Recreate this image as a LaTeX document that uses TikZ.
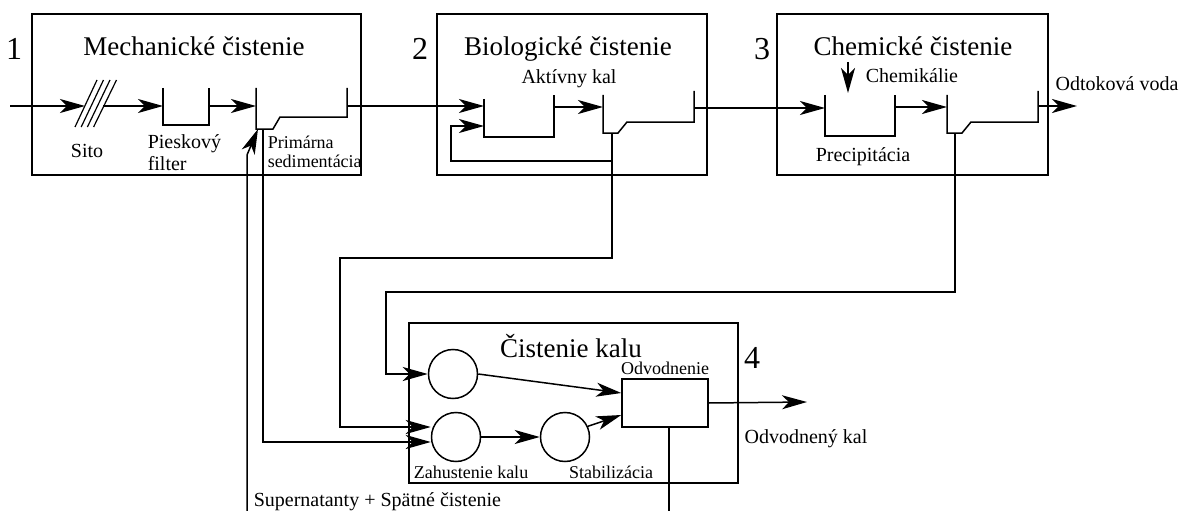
\documentclass[tikz,border=0pt]{standalone}
\usepackage{fontspec}
\setmainfont{Liberation Serif}
\usetikzlibrary{arrows.meta, positioning}

\tikzset{
    flow/.style={-{Stealth[length=25pt, width=14pt, inset=7pt]}},
    stage/.style={draw, inner sep=0pt},
    vessel/.style={draw, circle, minimum size=49pt, inner sep=0pt},
    press/.style={draw, minimum width=86pt, minimum height=48pt, inner sep=0pt},
    stagetitle/.style={font=\fontsize{27}{30}\selectfont, anchor=base, inner sep=0pt},
    stagenum/.style={font=\fontsize{32}{36}\selectfont, anchor=base, inner sep=0pt},
    label/.style={font=\fontsize{20}{22}\selectfont, anchor=base, inner sep=0pt},
    smalllabel/.style={font=\fontsize{18}{19}\selectfont, anchor=base, inner sep=0pt},
}

\begin{document}
\begin{tikzpicture}[x=1pt, y=-1pt, line width=1.5pt]
    \useasboundingbox (0,0) rectangle (1184,511);

    \node[stage, minimum width=329pt, minimum height=161pt] (mech) at (196.5,94.5) {};
    \node[stage, minimum width=270pt, minimum height=161pt] (bio) at (572,94.5) {};
    \node[stage, minimum width=271pt, minimum height=161pt] (chem) at (912.5,94.5) {};
    \node[stage, minimum width=329pt, minimum height=160pt] (sludge) at (573.5,403) {};

    \node[stagenum] (n1) at (14,60) {1};
    \node[stagenum] (n2) at (420,60) {2};
    \node[stagenum] (n3) at (762,60) {3};
    \node[stagenum] (n4) at (752,368) {4};

    \node[stagetitle] (mechtitle) at (194,56) {Mechanické čistenie};
    \node[stagetitle] (biotitle) at (568,56) {Biologické čistenie};
    \node[stagetitle] (chemtitle) at (913,56) {Chemické čistenie};
    \node[stagetitle] (sludgetitle) at (571,357) {Čistenie kalu};

    % mechanical stage
    \coordinate (inlet) at (10,106);
    \foreach \i in {0,...,3}
        \draw[line width=1.2pt] (75+6.2*\i,127) -- (97+6.5*\i,80);
    \draw (163,88) |- (209,125) -- (209,88);
    \draw (256,88) |- (273,129) -- (280,117) -| (347,88);
    \coordinate (primout) at (263,129);
    \draw[flow] (inlet) -- (85,106);
    \draw[flow] (103,106) -- (163,106);
    \draw[flow] (209,106) -- (256,106);
    \node[label] (sito) at (87,157) {Sito};
    \node[label, anchor=base west, align=left] (sand) at (147,170) {Pieskový\\filter};
    \node[smalllabel, anchor=base west, align=left] (prim) at (267,167) {Primárna\\sedimentácia};

    % biological stage
    \draw (484,99) |- (554,137) -- (554,95);
    \draw (603,95) |- (618,133) -- (627,122) -| (694,91);
    \coordinate (bioout) at (612,133);
    \draw[flow] (347,106) -- (484,106);
    \draw[flow] (554,107) -- (603,107);
    \draw[flow] (612,161) -| (451,126) -- (484,126);
    \node[label] (akt) at (569,84) {Aktívny kal};

    % chemical stage
    \draw (825,95) |- (895,136) -- (895,95);
    \draw (947,95) |- (962,133) -- (971,122) -| (1038,91);
    \coordinate (chemout) at (955,133);
    \draw[flow] (694,108) -- (825,108);
    \draw[flow] (895,107) -- (947,107);
    \draw[flow] (1038,106) -- (1077,106);
    \draw[flow] (848,62) -- (848,93);
    \node[label] (chemik) at (912,83) {Chemikálie};
    \node[label] (precip) at (863,161) {Precipitácia};
    \node[label] (odtok) at (1117,91) {Odtoková voda};

    % sludge treatment
    \node[vessel] (top) at (453,374) {};
    \node[vessel] (zah) at (456,437) {};
    \node[vessel] (stab) at (565,437) {};
    \node[press] (odv) at (665,403) {};
    \draw[flow] (chemout) |- (386,292) |- (top.west);
    \draw[flow] (bioout) |- (340,258) |- ([yshift=10pt]zah.west);
    \draw[flow] (primout) |- ([yshift=-5pt]zah.west);
    \draw[flow] (top.east) -- ([yshift=10pt]odv.west);
    \draw[flow] (zah.east) -- (stab.west);
    \draw[flow] (stab.25) -- ([yshift=-12pt]odv.west);
    \draw[flow] (odv.east) -- (807,402);
    \draw ([xshift=4pt]odv.south) -- (669,511);
    \draw[flow] (247,511) -- (247,155) -- (258,129);
    \node[smalllabel] (odvlabel) at (665,374) {Odvodnenie};
    \node[smalllabel] (zahlabel) at (471,478) {Zahustenie kalu};
    \node[smalllabel] (stablabel) at (611,478) {Stabilizácia};
    \node[label] (odvkal) at (806,443) {Odvodnený kal};
    \node[label, anchor=base west] (super) at (253,506) {Supernatanty + Spätné čistenie};
\end{tikzpicture}
\end{document}
